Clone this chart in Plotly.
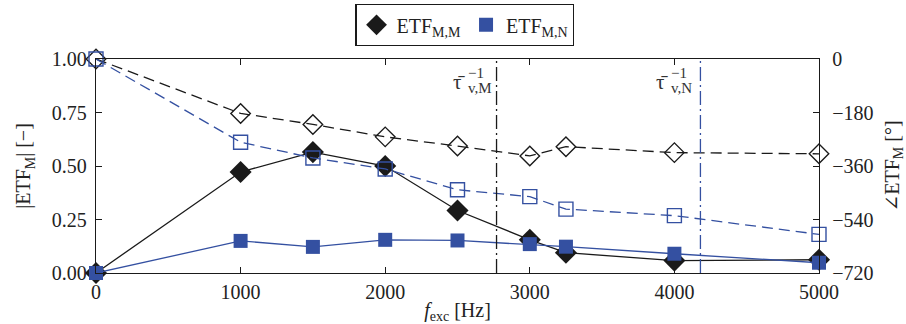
import plotly.graph_objects as go

# ---- data ----
freq = [0, 1000, 1500, 2000, 2500, 3000, 3250, 4000, 5000]
mag_MM = [0.00, 0.472, 0.565, 0.500, 0.292, 0.155, 0.095, 0.058, 0.062]
mag_MN = [0.00, 0.150, 0.122, 0.155, 0.152, 0.135, 0.123, 0.090, 0.048]
phase_MM = [0, -183, -220, -262, -293, -326, -295, -315, -319]
phase_MN = [0, -280, -333, -370, -440, -463, -505, -527, -590]
tau_M = 2770
tau_N = 4180
x_ticks = [0, 1000, 2000, 3000, 4000, 5000]
y_ticks = [0, 0.25, 0.5, 0.75, 1.0]
y2_ticks = [0, -180, -360, -540, -720]

BLACK = "#1a1a1a"
BLUE = "#3450a1"
FONT = "Liberation Serif, DejaVu Serif, serif"
FS = 20

fig = go.Figure()

# magnitudes (left axis)
fig.add_trace(go.Scatter(x=freq, y=mag_MM, mode="lines+markers", showlegend=False,
                         line=dict(color=BLACK, width=1.3),
                         marker=dict(symbol="diamond", size=17, color=BLACK),
                         cliponaxis=False))
fig.add_trace(go.Scatter(x=freq, y=mag_MN, mode="lines+markers", showlegend=False,
                         line=dict(color=BLUE, width=1.3),
                         marker=dict(symbol="square", size=14, color=BLUE),
                         cliponaxis=False))
# phases (right axis)
fig.add_trace(go.Scatter(x=freq, y=phase_MM, mode="lines+markers", showlegend=False, yaxis="y2",
                         line=dict(color=BLACK, width=1.3, dash="11px,6px"),
                         marker=dict(symbol="diamond-open", size=15, color=BLACK, line=dict(width=1.4)),
                         cliponaxis=False))
fig.add_trace(go.Scatter(x=freq, y=phase_MN, mode="lines+markers", showlegend=False, yaxis="y2",
                         line=dict(color=BLUE, width=1.3, dash="11px,6px"),
                         marker=dict(symbol="square-open", size=14, color=BLUE, line=dict(width=1.4)),
                         cliponaxis=False))

# legend entries (marker only)
fig.add_trace(go.Scatter(x=[None], y=[None], mode="markers", name="ETF<sub>M,M</sub>",
                         marker=dict(symbol="diamond", size=17, color=BLACK)))
fig.add_trace(go.Scatter(x=[None], y=[None], mode="markers", name="ETF<sub>M,N</sub>",
                         marker=dict(symbol="square", size=14, color=BLUE)))

# vertical reference lines
fig.add_shape(type="line", x0=tau_M, x1=tau_M, y0=0, y1=1, xref="x", yref="paper",
              line=dict(color=BLACK, width=1.3, dash="14px,4px,2px,4px"))
fig.add_shape(type="line", x0=tau_N, x1=tau_N, y0=0, y1=1, xref="x", yref="paper",
              line=dict(color=BLUE, width=1.3, dash="14px,4px,2px,4px"))

for xv, lab in [(tau_M, "v,M"), (tau_N, "v,N")]:
    fig.add_annotation(x=xv, y=0.893, xref="x", yref="paper", text="τ̄", showarrow=False,
                       xanchor="right", yanchor="middle", xshift=-30,
                       font=dict(family=FONT, size=21, color="#333"))
    fig.add_annotation(x=xv, y=0.935, xref="x", yref="paper", text="−1", showarrow=False,
                       xanchor="left", yanchor="middle", xshift=-31,
                       font=dict(family=FONT, size=15, color="#333"))
    fig.add_annotation(x=xv, y=0.865, xref="x", yref="paper", text=lab, showarrow=False,
                       xanchor="left", yanchor="middle", xshift=-31,
                       font=dict(family=FONT, size=15, color="#333"))

axis_common = dict(showline=True, linecolor=BLACK, linewidth=1.3, ticks="inside",
                   ticklen=6, tickcolor=BLACK, tickwidth=1.3, showgrid=False, zeroline=False,
                   automargin=False,
                   tickfont=dict(family=FONT, size=FS, color="#222"))

fig.update_layout(
    width=906, height=324,
    margin=dict(l=96, r=87, t=59, b=51),
    paper_bgcolor="white", plot_bgcolor="white",
    font=dict(family=FONT, size=FS, color="#222"),
    xaxis=dict(range=[0, 5000], tickvals=x_ticks, mirror="ticks", ticklabelstandoff=1,
               title=dict(text="<i>f</i><sub>exc</sub> [Hz]", standoff=0,
                          font=dict(family=FONT, size=FS)),
               **axis_common),
    yaxis=dict(range=[0, 1], tickvals=y_ticks, tickformat=".2f", ticklabelstandoff=4,
               title=dict(text="|ETF<sub>M</sub>| [−]", standoff=15,
                          font=dict(family=FONT, size=FS)),
               **axis_common),
    yaxis2=dict(range=[-720, 0], tickvals=y2_ticks, overlaying="y", side="right",
                ticklabelstandoff=8,
                title=dict(text="∠ETF<sub>M</sub> [°]", standoff=33,
                           font=dict(family=FONT, size=FS)),
                **axis_common),
    legend=dict(orientation="h", x=0.51, y=1 - 4 / 324, xanchor="center", yanchor="top",
                yref="container",
                bordercolor=BLACK, borderwidth=1.3, bgcolor="white",
                font=dict(family=FONT, size=FS), itemwidth=30),
)

fig.write_html("out.html")
